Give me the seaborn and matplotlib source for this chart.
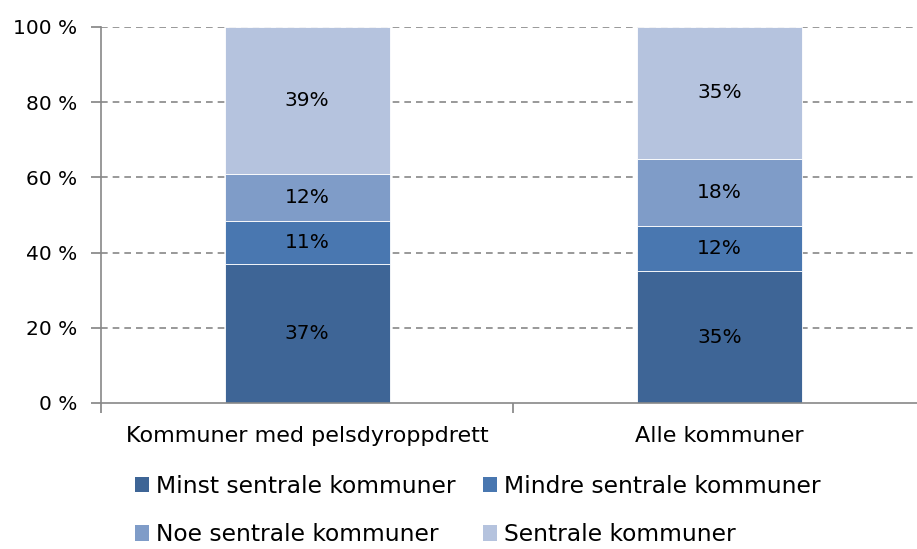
import matplotlib
matplotlib.use("Agg")
import matplotlib.pyplot as plt
import seaborn as sns
import pandas as pd
import numpy as np
from matplotlib.patches import Patch

categories = ["Kommuner med pelsdyroppdrett", "Alle kommuner"]
series_names = ["Minst sentrale kommuner", "Mindre sentrale kommuner",
                "Noe sentrale kommuner", "Sentrale kommuner"]
minst = [37.0, 35.0]
mindre = [11.5, 12.0]
noe = [12.5, 18.0]
sentrale = [39.0, 35.0]
labels = [["37%", "35%"], ["11%", "12%"], ["12%", "18%"], ["39%", "35%"]]
colors = ["#3E6596", "#4977B0", "#7F9CC8", "#B5C3DE"]
yticks = [0, 20, 40, 60, 80, 100]

sns.set_theme(style="white")
plt.rcParams['font.family'] = ['DejaVu Sans']
plt.rcParams['text.color'] = 'black'
plt.rcParams['xtick.color'] = 'black'
plt.rcParams['ytick.color'] = 'black'

fig = plt.figure(figsize=(9.17, 5.49), dpi=100)
ax = fig.add_axes([101/917, 1-403/549, 824.5/917, 376/549])

values = [minst, mindre, noe, sentrale]
bottom = np.zeros(len(categories))
for name, vals, col, lab in zip(series_names, values, colors, labels):
    df = pd.DataFrame({"cat": categories, "val": vals})
    sns.barplot(data=df, x="cat", y="val", color=col, width=0.4, bottom=bottom,
                ax=ax, saturation=1, edgecolor="white", linewidth=0.6, errorbar=None)
    cont = ax.containers[-1]
    ax.bar_label(cont, labels=lab, label_type="center", fontsize=14.5, color="black")
    bottom = bottom + np.array(vals)

ax.set_xlim(-0.5, 1.5)
ax.set_ylim(0, 100)
ax.set_yticks(yticks)
ax.set_yticklabels([f"{t} %" for t in yticks], fontsize=14.5)
ax.set_xticks([-0.5, 0.5, 1.5])
ax.set_xticklabels([])
ax.tick_params(axis="x", length=7, color="#888888", direction="out", bottom=True)
ax.tick_params(axis="y", length=7, color="#888888", labelcolor="black",
               direction="out", left=True, pad=10)
for i, c in enumerate(categories):
    ax.text(i, -6.0, c, ha="center", va="top", fontsize=16, color="black",
            transform=ax.transData)
ax.set_xlabel("")
ax.set_ylabel("")
for t in yticks[1:]:
    ax.axhline(t, color="#888888", linestyle=(0, (4, 3)), linewidth=1.2, zorder=0)
for s in ["top", "right"]:
    ax.spines[s].set_visible(False)
ax.spines["left"].set_color("#888888")
ax.spines["bottom"].set_color("#888888")
ax.spines["left"].set_linewidth(1.2)
ax.spines["bottom"].set_linewidth(1.2)
ax.set_axisbelow(True)

order = [0, 2, 1, 3]
handles = [Patch(facecolor=colors[i], edgecolor="none") for i in order]
names = [series_names[i] for i in order]
leg = fig.legend(handles, names, loc="center", bbox_to_anchor=(0.521, 0.07),
                 ncol=2, frameon=False, fontsize=16.8, handlelength=0.6,
                 handleheight=0.65, handletextpad=0.3, columnspacing=1.15,
                 labelspacing=1.1)
for t in leg.get_texts():
    t.set_color("black")

fig.savefig("out.png", dpi=100)
